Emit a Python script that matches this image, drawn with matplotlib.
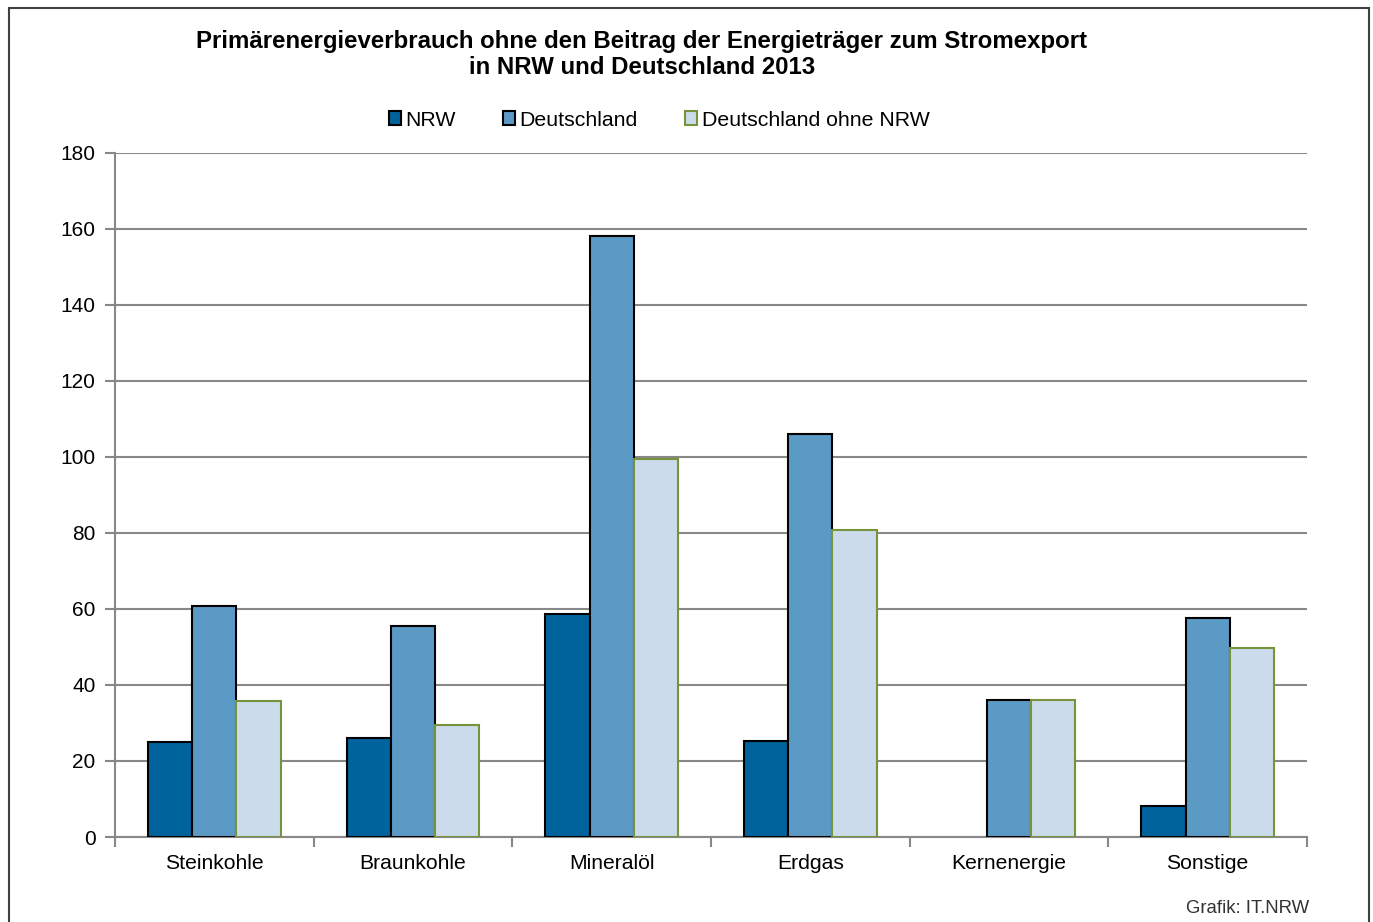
import matplotlib
matplotlib.use("Agg")
import matplotlib.pyplot as plt
import numpy as np
from matplotlib.patches import Rectangle, Patch

plt.rcParams['font.family'] = ['Liberation Sans', 'DejaVu Sans']

categories = ["Steinkohle", "Braunkohle", "Mineralöl", "Erdgas", "Kernenergie", "Sonstige"]
series_names = ["NRW", "Deutschland", "Deutschland ohne NRW"]
nrw = [25.0, 26.1, 58.7, 25.3, 0.0, 8.2]
deutschland = [60.8, 55.5, 158.2, 106.1, 36.1, 57.6]
ohne_nrw = [35.8, 29.5, 99.5, 80.8, 36.1, 49.7]
yticks = [0, 20, 40, 60, 80, 100, 120, 140, 160, 180]

colors = ["#00639C", "#5C9AC6", "#CCDBEC"]
edges = ["#000000", "#000000", "#77933C"]

fig = plt.figure(figsize=(13.73, 9.22), dpi=100)
ax = fig.add_axes([115/1373, 1-837/922, (1307-115)/1373, (837-153)/922])

# outer frame
fig.patches.append(Rectangle((8.5/1373, -0.05), (1369-8.5)/1373, 1.05-8.5/922,
                             transform=fig.transFigure, fill=False,
                             edgecolor="#404040", linewidth=1.5, zorder=0))

x = np.arange(len(categories))
w = 0.223
data = [nrw, deutschland, ohne_nrw]
for i, (vals, c, e, n) in enumerate(zip(data, colors, edges, series_names)):
    lws = [1.5 if v > 0 else 0 for v in vals]
    ax.bar(x + (i - 1) * w, vals, width=w, color=c, edgecolor=e, linewidth=lws,
           label=n, zorder=3)

ax.set_xlim(-0.5, len(categories) - 0.5)
ax.set_ylim(0, 180)
ax.set_yticks(yticks)
ax.set_yticklabels([str(v) for v in yticks], fontsize=15)
ax.yaxis.grid(True, color="#888888", linewidth=1.5, zorder=0)
ax.set_axisbelow(True)

ax.set_xticks(np.arange(-0.5, len(categories)), labels=[])
ax.set_xticks(x, labels=categories, minor=True, fontsize=15.2)
ax.tick_params(axis='x', which='minor', length=0, pad=12.5)
ax.tick_params(axis='x', which='major', length=7, width=1.5, color="#888888", direction='out')
ax.tick_params(axis='y', length=7, width=1.5, color="#888888", direction='out', pad=7)

for s in ["top", "right"]:
    ax.spines[s].set_visible(False)
for s in ["left", "bottom"]:
    ax.spines[s].set_color("#888888")
    ax.spines[s].set_linewidth(1.5)

fig.text(642/1373, 1-54.5/922, "Primärenergieverbrauch ohne den Beitrag der Energieträger zum Stromexport\nin NRW und Deutschland 2013",
         ha="center", va="center", fontsize=17.3, fontweight="bold", linespacing=1.22)

handles = [Patch(facecolor=c, edgecolor=e, linewidth=1.5) for c, e in zip(colors, edges)]
fig.legend(handles, series_names, loc="center", bbox_to_anchor=(659/1373, 1-120/922),
           ncol=3, frameon=False, fontsize=15.3, handlelength=0.6, handleheight=0.6,
           handletextpad=0.2, columnspacing=2.2)

fig.text(1309/1373, 1-908/922, "Grafik: IT.NRW", ha="right", va="center", fontsize=13.4, color="#333333")

fig.savefig("out.png", dpi=100)
